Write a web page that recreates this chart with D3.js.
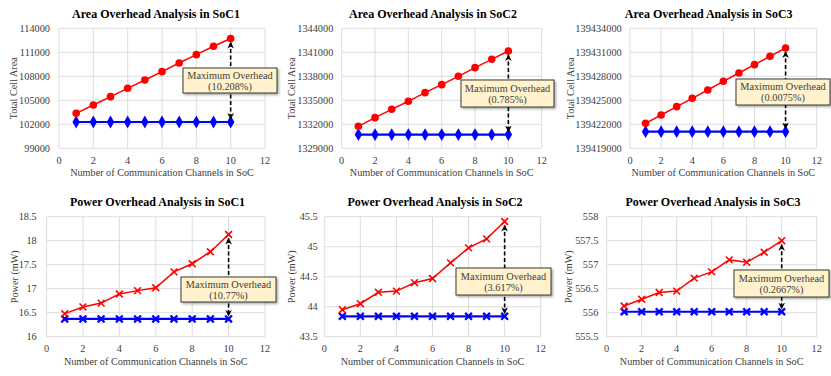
<!DOCTYPE html>
<html><head><meta charset="utf-8">
<script src="https://cdn.jsdelivr.net/npm/d3@7/dist/d3.min.js"></script>
<style>
html,body{margin:0;padding:0;background:#fff;}
</style></head>
<body><svg id="c" width="831" height="376"></svg>
<script>
// ---- data ----
const channels = [1,2,3,4,5,6,7,8,9,10];
const xTicks = [0,2,4,6,8,10,12];

const areaSoC1Base = [102290,102290,102290,102290,102290,102290,102290,102290,102290,102290];
const areaSoC1Comm = [103375,104417,105458,106500,107542,108583,109667,110708,111750,112730];
const areaSoC1Ticks = [99000,102000,105000,108000,111000,114000];

const areaSoC2Base = [1330710,1330710,1330710,1330710,1330710,1330710,1330710,1330710,1330710,1330710];
const areaSoC2Comm = [1331750,1332833,1333875,1334875,1335958,1336958,1338000,1339083,1340125,1341160];
const areaSoC2Ticks = [1329000,1332000,1335000,1338000,1341000,1344000];

const areaSoC3Base = [139421083,139421083,139421083,139421083,139421083,139421083,139421083,139421083,139421083,139421083];
const areaSoC3Comm = [139422125,139423167,139424208,139425250,139426292,139427375,139428417,139429458,139430500,139431540];
const areaSoC3Ticks = [139419000,139422000,139425000,139428000,139431000,139434000];

const powerSoC1Base = [16.37,16.37,16.37,16.37,16.37,16.37,16.37,16.37,16.37,16.37];
const powerSoC1Comm = [16.48,16.62,16.70,16.89,16.96,17.02,17.35,17.52,17.77,18.13];
const powerSoC1Ticks = [16,16.5,17,17.5,18,18.5];

const powerSoC2Base = [43.84,43.84,43.84,43.84,43.84,43.84,43.84,43.84,43.84,43.84];
const powerSoC2Comm = [43.95,44.05,44.24,44.26,44.40,44.47,44.73,44.98,45.13,45.42];
const powerSoC2Ticks = [43.5,44,44.5,45,45.5];

const powerSoC3Base = [556.02,556.02,556.02,556.02,556.02,556.02,556.02,556.02,556.02,556.02];
const powerSoC3Comm = [556.14,556.28,556.42,556.45,556.72,556.85,557.10,557.05,557.26,557.50];
const powerSoC3Ticks = [555.5,556,556.5,557,557.5,558];

const titles = ["Area Overhead Analysis in SoC1","Area Overhead Analysis in SoC2","Area Overhead Analysis in SoC3",
                "Power Overhead Analysis in SoC1","Power Overhead Analysis in SoC2","Power Overhead Analysis in SoC3"];
const overheadLabels = ["(10.208%)","(0.785%)","(0.0075%)","(10.77%)","(3.617%)","(0.2667%)"];
const xTitle = "Number of Communication Channels in SoC";
const yTitles = ["Total Cell Area","Total Cell Area","Total Cell Area","Power (mW)","Power (mW)","Power (mW)"];

// ---- layout ----
const FONT = "Liberation Serif";
const panels = [
 {base:areaSoC1Base, comm:areaSoC1Comm, ticks:areaSoC1Ticks, kind:"area",
  x0:59, x1:265, yT:28.3, yB:148.3, tcx:156, ty:18, ylr:50, ytx:13, box:[183,68,94,25]},
 {base:areaSoC2Base, comm:areaSoC2Comm, ticks:areaSoC2Ticks, kind:"area",
  x0:341.7, x1:541.7, yT:28.3, yB:148.3, tcx:433, ty:18, ylr:333.3, ytx:291.7, box:[461,80,93,27]},
 {base:areaSoC3Base, comm:areaSoC3Comm, ticks:areaSoC3Ticks, kind:"area",
  x0:630, x1:816.7, yT:28.3, yB:148.3, tcx:708.7, ty:18, ylr:621.7, ytx:570, box:[736,79,94,26]},
 {base:powerSoC1Base, comm:powerSoC1Comm, ticks:powerSoC1Ticks, kind:"power",
  x0:46.5, x1:265, yT:216.7, yB:336.7, tcx:157.5, ty:206, ylr:36.7, ytx:14, box:[181,277,95,25]},
 {base:powerSoC2Base, comm:powerSoC2Comm, ticks:powerSoC2Ticks, kind:"power",
  x0:324.3, x1:540.7, yT:216.7, yB:336.7, tcx:435, ty:206, ylr:317.7, ytx:291, box:[456,268,95,27]},
 {base:powerSoC3Base, comm:powerSoC3Comm, ticks:powerSoC3Ticks, kind:"power",
  x0:606.7, x1:816.7, yT:216.7, yB:336.7, tcx:713, ty:206, ylr:598.3, ytx:568.3, box:[734,270,95,27]}
];

const svg = d3.select("#c");
svg.append("rect").attr("width",831).attr("height",376).attr("fill","#fff");
const defs = svg.append("defs");
defs.append("marker").attr("id","ah").attr("viewBox","0 0 10 10").attr("refX",9).attr("refY",5)
  .attr("markerWidth",4.2).attr("markerHeight",4.2).attr("orient","auto-start-reverse")
  .attr("markerUnits","strokeWidth")
  .append("path").attr("d","M0,0 L10,5 L0,10 L3,5 Z").attr("fill","#000");
const sh = defs.append("filter").attr("id","sh").attr("x","-10%").attr("y","-10%").attr("width","130%").attr("height","140%");
sh.append("feDropShadow").attr("dx",1.5).attr("dy",1.5).attr("stdDeviation",0.8).attr("flood-color","#000").attr("flood-opacity",0.35);

panels.forEach((p,i)=>{
  const g = svg.append("g");
  const x = d3.scaleLinear().domain([0,12]).range([p.x0,p.x1]);
  const ext = d3.extent(p.ticks);
  const y = d3.scaleLinear().domain(ext).range([p.yB,p.yT]);

  g.selectAll(".hg").data(p.ticks).join("line")
    .attr("x1",p.x0).attr("x2",p.x1).attr("y1",d=>y(d)).attr("y2",d=>y(d))
    .attr("stroke","#d9d9d9").attr("stroke-width",0.9);
  g.selectAll(".vg").data(xTicks).join("line")
    .attr("y1",p.yT).attr("y2",p.yB).attr("x1",d=>x(d)).attr("x2",d=>x(d))
    .attr("stroke","#d9d9d9").attr("stroke-width",0.9);

  g.selectAll(".yl").data(p.ticks).join("text")
    .attr("font-family",FONT)
    .attr("x",p.ylr).attr("y",d=>y(d)+3.5).attr("text-anchor","end")
    .attr("font-size",10.3).attr("fill","#404040").text(d=>String(d));
  g.selectAll(".xl").data(xTicks).join("text")
    .attr("font-family",FONT)
    .attr("x",d=>x(d)).attr("y",p.yB+15.5).attr("text-anchor","middle")
    .attr("font-size",10.3).attr("fill","#404040").text(d=>d);

  g.append("text").attr("font-family",FONT).attr("x",p.tcx).attr("y",p.ty).attr("text-anchor","middle")
    .attr("font-size",12).attr("font-weight","bold").attr("fill","#000").text(titles[i]);
  g.append("text").attr("font-family",FONT).attr("x",(p.x0+p.x1)/2).attr("y",p.yB+28).attr("text-anchor","middle")
    .attr("font-size",10.2).attr("fill","#404040").text(xTitle);
  g.append("text").attr("font-family",FONT).attr("transform",`translate(${p.ytx+3.5},${(p.yT+p.yB)/2}) rotate(-90)`)
    .attr("text-anchor","middle").attr("font-size",10.2).attr("fill","#404040").text(yTitles[i]);

  const line = d3.line().x((d,k)=>x(channels[k])).y(d=>y(d));
  g.append("path").datum(p.base).attr("d",line).attr("fill","none").attr("stroke","#0000ff").attr("stroke-width",2.2);
  g.append("path").datum(p.comm).attr("d",line).attr("fill","none").attr("stroke","#ff0000").attr("stroke-width",1.5);

  if(p.kind==="area"){
    g.selectAll(".bm").data(p.base).join("path")
      .attr("transform",(d,k)=>`translate(${x(channels[k])},${y(d)})`)
      .attr("d",d3.symbol(d3.symbolDiamond,48)).attr("fill","#0000ff");
    g.selectAll(".rm").data(p.comm).join("circle")
      .attr("cx",(d,k)=>x(channels[k])).attr("cy",d=>y(d)).attr("r",3.8).attr("fill","#ff0000");
  } else {
    const xm = s=> `M${-s},${-s}L${s},${s}M${-s},${s}L${s},${-s}`;
    g.selectAll(".bm").data(p.base).join("path")
      .attr("transform",(d,k)=>`translate(${x(channels[k])},${y(d)})`)
      .attr("d",xm(3.4)).attr("stroke","#0000ff").attr("stroke-width",2.3).attr("fill","none");
    g.selectAll(".rm").data(p.comm).join("path")
      .attr("transform",(d,k)=>`translate(${x(channels[k])},${y(d)})`)
      .attr("d",xm(3.4)).attr("stroke","#ff0000").attr("stroke-width",1.6).attr("fill","none");
  }

  const last = channels.length-1;
  const ax = x(channels[last]);
  g.append("line").attr("x1",ax).attr("x2",ax)
    .attr("y1",y(p.comm[last])+4).attr("y2",y(p.base[last])-3)
    .attr("stroke","#000").attr("stroke-width",1.6).attr("stroke-dasharray","4,2.5")
    .attr("marker-start","url(#ah)").attr("marker-end","url(#ah)");

  const [bx,by,bw,bh] = p.box;
  g.append("rect").attr("x",bx).attr("y",by).attr("width",bw).attr("height",bh)
    .attr("fill","#fff2cc").attr("stroke","#262626").attr("stroke-width",0.9).attr("filter","url(#sh)");
  g.append("text").attr("font-family",FONT).attr("x",bx+bw/2).attr("y",by+bh/2-2).attr("text-anchor","middle")
    .attr("font-size",10.3).attr("fill","#404040").text("Maximum Overhead");
  g.append("text").attr("font-family",FONT).attr("x",bx+bw/2).attr("y",by+bh/2+9).attr("text-anchor","middle")
    .attr("font-size",10.3).attr("fill","#404040").text(overheadLabels[i]);
});
</script></body></html>
